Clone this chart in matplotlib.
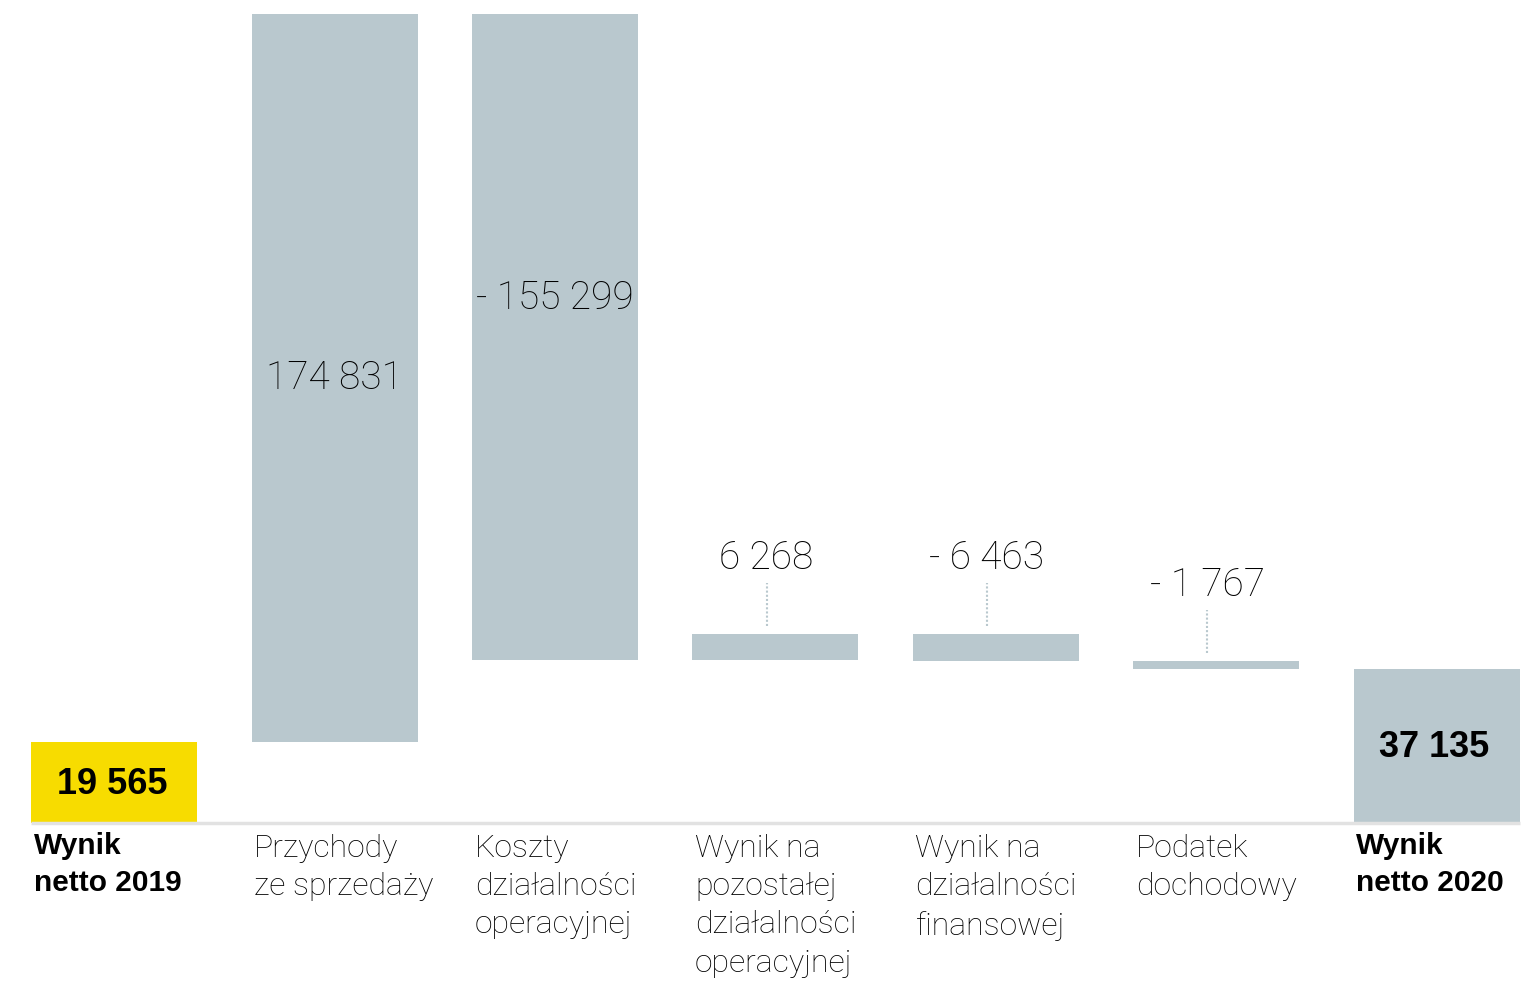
import matplotlib.pyplot as plt

plt.rcParams['font.family'] = ['Roboto', 'DejaVu Sans']

categories = ['Wynik\nnetto 2019', 'Przychody\nze sprzedaży',
              'Koszty\ndziałalności\noperacyjnej',
              'Wynik na\npozostałej\ndziałalności\noperacyjnej',
              'Wynik na\ndziałalności\nfinansowej',
              'Podatek\ndochodowy', 'Wynik\nnetto 2020']
values = [19565, 174831, -155299, 6268, -6463, -1767, 37135]
is_total = [True, False, False, False, False, False, True]

GREY = '#b9c8ce'
YELLOW = '#f7dc00'
BOLD = ['Liberation Sans', 'DejaVu Sans']

def fmt(v):
    s = f'{abs(v):,}'.replace(',', ' ')
    return s if v >= 0 else '- ' + s

# waterfall geometry from the values
bottoms, heights = [], []
cum = 0
for v, tot in zip(values, is_total):
    if tot:
        bottoms.append(0)
        heights.append(v)
        cum = v
    else:
        bottoms.append(cum if v > 0 else cum + v)
        heights.append(abs(v))
        cum += v

fig = plt.figure(figsize=(15.23, 9.85), dpi=100)
ax = fig.add_axes([0, 0, 1, 1])
W = 0.753
ax.set_xlim(-0.518, 6.392)
ax.set_ylim(-38945, 197849)
ax.axis('off')
upp = (197849 + 38945) / 985.0   # data units per pixel

x = list(range(len(values)))
colors = [YELLOW] + [GREY] * (len(values) - 1)
ax.bar(x, heights, bottom=bottoms, width=W, color=colors, zorder=2)
ax.hlines(0, -W / 2, len(values) - 1 + W / 2, color='#e2e2e2', lw=2.5, zorder=3)

for i, (v, b, h, tot) in enumerate(zip(values, bottoms, heights, is_total)):
    top = b + h
    if tot:
        ax.text(i - 0.01, b + h / 2 - 2 * upp, fmt(v), ha='center',
                va='center', fontsize=26, fontweight='bold', family=BOLD,
                color='black', zorder=4)
    elif h > 100000:
        yy = b + h / 2 if v > 0 else top - 0.44 * h
        ax.text(i, yy, fmt(v), ha='center', va='center', fontsize=28,
                fontweight='light', color='black', zorder=4)
    else:
        xc = i - 0.04
        ax.plot([xc, xc], [top + 8 * upp, top + 51 * upp], color=GREY,
                lw=1.5, ls=(0, (1, 1)), zorder=1)
        ax.text(xc, top + 76 * upp, fmt(v), ha='center', va='center',
                fontsize=28, fontweight='light', color='black', zorder=4)
    if tot:
        ax.text(i - W / 2 + 0.012, -9 * upp, categories[i], ha='left',
                va='top', fontsize=21.5, linespacing=1.43, color='black',
                fontweight='bold', family=BOLD)
    else:
        ax.text(i - W / 2 + 0.012, -11 * upp, categories[i], ha='left',
                va='top', fontsize=23, linespacing=1.4, color='black',
                fontweight='light')

fig.savefig('out.png', dpi=100, facecolor='white')
